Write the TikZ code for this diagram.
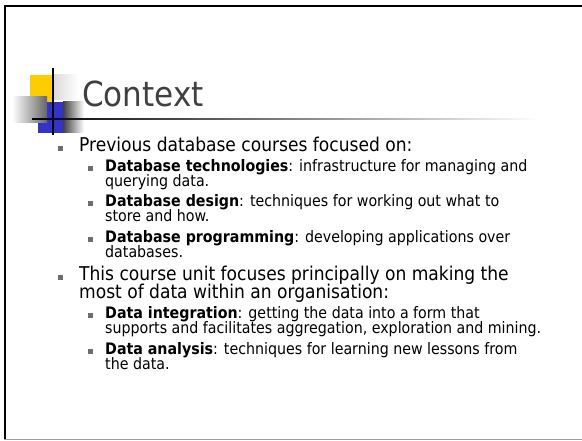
\documentclass[tikz,border=0pt]{standalone}
\usepackage{fontspec}
\setmainfont{DejaVu Sans Condensed}[BoldFont={DejaVu Sans Condensed Bold}]
\definecolor{titlegray}{HTML}{404040}
\definecolor{bulletgray}{HTML}{6E6E6E}
\definecolor{logoyellow}{HTML}{FFCC00}
\definecolor{logoblue}{HTML}{3333CC}
\begin{document}
\begin{tikzpicture}[x=1pt,y=-1pt,
  maintext/.style={anchor=base west,inner sep=0pt,font=\fontsize{19}{19}\selectfont},
  subtext/.style={anchor=base west,inner sep=0pt,font=\fontsize{15.8}{15.8}\selectfont},
  mainbullet/.style={fill=bulletgray,draw=none,minimum size=5.5pt,inner sep=0pt},
  subbullet/.style={fill=bulletgray,draw=none,minimum size=4.5pt,inner sep=0pt}]
\useasboundingbox (0,0) rectangle (582,441);
\fill[white] (0,0) rectangle (582,441);

% slide frame
\draw[line width=2pt,black] (4,6) -- (582,6);
\draw[line width=2pt,black] (5,5) -- (5,440);
\draw[line width=1.2pt,gray!75] (4,439.6) -- (582,439.6);

% logo: coloured squares with soft grey shadows
\shade[left color=gray!30,right color=white] (53,75) rectangle (78,100);
\fill[logoyellow] (30,75) rectangle (53,102);
\fill[logoblue] (38,102) rectangle (63,133);
\shade[left color=black!75,right color=white] (63,102) rectangle (84,133);
\shade[left color=white,right color=black!60] (12,97) rectangle (47,123);
\draw[line width=1.5pt,black] (53,68) -- (53,135);
\shade[left color=black,right color=white] (32,118.2) rectangle (540,119.8);

% title
\node[anchor=base west,inner sep=0pt,text=titlegray,font=\fontsize{34.5}{34.5}\selectfont] (title) at (82,107) {Context};

% first group
\node[mainbullet] (b1) at (60.5,148.5) {};
\node[maintext] (t1) at (79,152) {Previous database courses focused on:};
\node[subbullet] (s1) at (90.5,168.5) {};
\node[subtext] (t2) at (105,172) {\textbf{Database technologies}: infrastructure for managing and};
\node[subtext] (t3) at (105,187) {querying data.};
\node[subbullet] (s2) at (90.5,203.5) {};
\node[subtext] (t4) at (105,207) {\textbf{Database design}: techniques for working out what to};
\node[subtext] (t5) at (105,222) {store and how.};
\node[subbullet] (s3) at (90.5,239.5) {};
\node[subtext] (t6) at (105,243) {\textbf{Database programming}: developing applications over};
\node[subtext] (t7) at (105,258) {databases.};

% second group
\node[mainbullet] (b2) at (60.5,277.5) {};
\node[maintext] (t8) at (79,281) {This course unit focuses principally on making the};
\node[maintext] (t9) at (79,299) {most of data within an organisation:};
\node[subbullet] (s4) at (90.5,315.5) {};
\node[subtext] (t10) at (105,319) {\textbf{Data integration}: getting the data into a form that};
\node[subtext] (t11) at (105,334) {supports and facilitates aggregation, exploration and mining.};
\node[subbullet] (s5) at (90.5,351.5) {};
\node[subtext] (t12) at (105,355) {\textbf{Data analysis}: techniques for learning new lessons from};
\node[subtext] (t13) at (105,370) {the data.};
\end{tikzpicture}
\end{document}
